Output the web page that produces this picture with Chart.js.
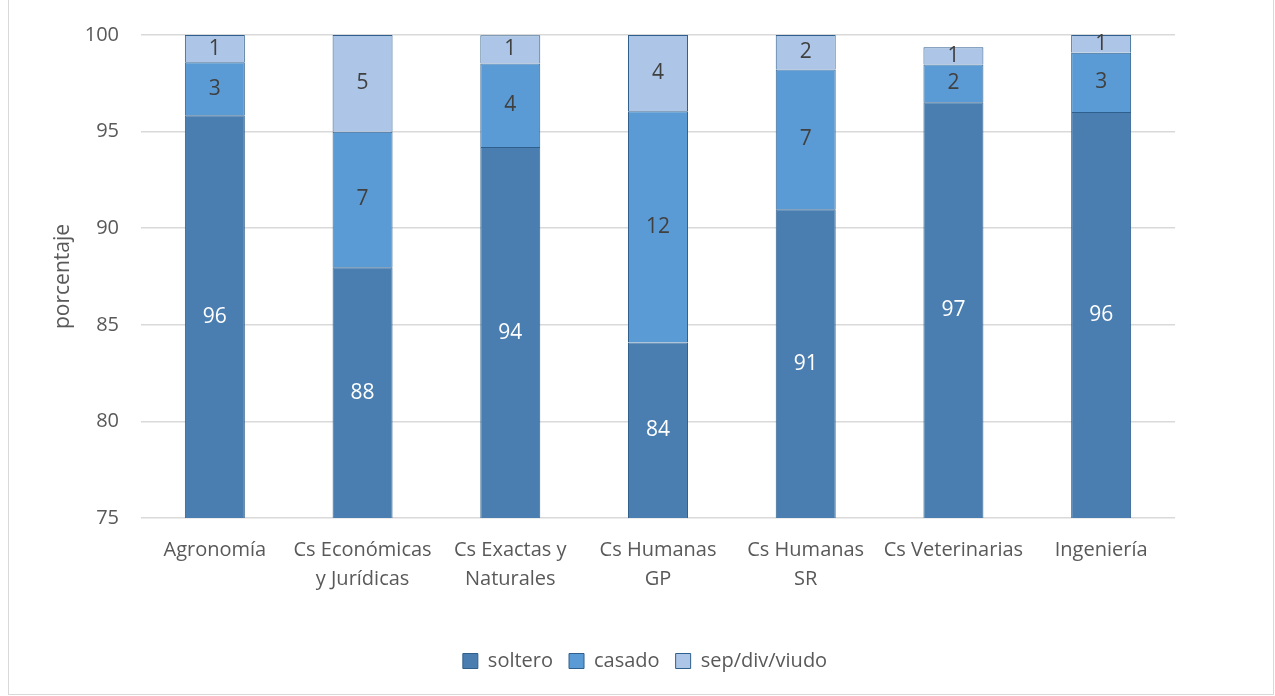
<!DOCTYPE html>
<html>
<head>
<meta charset="utf-8">
<script src="https://cdn.jsdelivr.net/npm/chart.js@4.4.1/dist/chart.umd.min.js"></script>
<style>
  html, body { margin: 0; padding: 0; background: #fff; }
  #marco { position: absolute; left: 8px; top: 0; width: 1266px; height: 695px; border: 1px solid #d9d9d9; border-top: none; box-sizing: border-box; }
  #wrap { position: absolute; left: 0; top: 0; width: 1275px; height: 696px; }
</style>
</head>
<body>
<div id="marco"></div>
<div id="wrap"><canvas id="grafico"></canvas></div>
<script>
// === Datos ===
const categorias = ["Agronomía", ["Cs Económicas", "y Jurídicas"], ["Cs Exactas y", "Naturales"], ["Cs Humanas", "GP"], ["Cs Humanas", "SR"], "Cs Veterinarias", "Ingeniería"];
const soltero = [95.84, 87.98, 94.2, 84.09, 90.98, 96.52, 96.01];
const casado = [2.75, 7.01, 4.33, 11.96, 7.24, 1.95, 3.07];
const sepDivViudo = [1.41, 5.01, 1.46, 3.95, 1.78, 0.9, 0.92];
const ticksY = [75, 80, 85, 90, 95, 100];

// === Colores ===
const cSoltero = "#4a7eb0";
const cCasado = "#5b9bd5";
const cSep = "#adc5e6";
const borde = "#2f5f8c";
const gris = "#595959";
const fuente = "'Open Sans', sans-serif";

// etiquetas dentro de cada segmento
const etiquetas = {
  id: "etiquetas",
  afterDatasetsDraw(chart) {
    const ctx = chart.ctx;
    const abajo = chart.chartArea.bottom;
    ctx.save();
    ctx.font = "21px " + fuente;
    ctx.textAlign = "center";
    ctx.textBaseline = "middle";
    chart.data.datasets.forEach((ds, i) => {
      chart.getDatasetMeta(i).data.forEach((bar, j) => {
        const y = (bar.y + Math.min(bar.base, abajo)) / 2;
        ctx.fillStyle = i === 0 ? "#ffffff" : "#404040";
        ctx.fillText(Math.round(ds.data[j]), bar.x, y);
      });
    });
    ctx.restore();
  }
};

new Chart(document.getElementById("grafico"), {
  type: "bar",
  data: {
    labels: categorias,
    datasets: [
      { label: "soltero", data: soltero, backgroundColor: cSoltero, borderColor: borde, borderWidth: 1 },
      { label: "casado", data: casado, backgroundColor: cCasado, borderColor: borde, borderWidth: 1 },
      { label: "sep/div/viudo", data: sepDivViudo, backgroundColor: cSep, borderColor: borde, borderWidth: 1 }
    ]
  },
  options: {
    responsive: true,
    maintainAspectRatio: false,
    animation: false,
    datasets: {
      bar: { categoryPercentage: 1, barPercentage: 0.406 }
    },
    scales: {
      x: {
        stacked: true,
        grid: { display: false },
        border: { display: false },
        ticks: { color: gris, font: { family: fuente, size: 20, lineHeight: 1.45 }, padding: 10, maxRotation: 0, autoSkip: false },
        afterFit(scale) { scale.height = 117; }
      },
      y: {
        stacked: true,
        min: 75,
        max: 100,
        afterBuildTicks(scale) { scale.ticks = ticksY.map(v => ({ value: v })); },
        grid: { color: "#d9d9d9", lineWidth: 1.5, drawTicks: false },
        border: { display: false },
        ticks: { color: gris, font: { family: fuente, size: 20 }, padding: 22 },
        title: { display: true, text: "porcentaje", color: gris, font: { family: fuente, size: 21 }, padding: { top: 35, bottom: 0 } },
        afterFit(scale) { scale.width = 126; }
      },
      // eje vacío a la derecha para dejar el margen
      derecha: {
        position: "right",
        display: true,
        grid: { display: false },
        border: { display: false },
        ticks: { display: false },
        afterFit(scale) { scale.width = 100; }
      }
    },
    plugins: {
      legend: {
        position: "bottom",
        labels: {
          color: gris,
          font: { family: fuente, size: 20 },
          boxWidth: 15,
          boxHeight: 15,
          padding: 16,
          useBorderRadius: false
        }
      },
      tooltip: { enabled: false }
    },
    layout: {
      padding: { top: 35, right: 0, bottom: 15, left: 15 }
    }
  },
  plugins: [etiquetas]
});
</script>
</body>
</html>
